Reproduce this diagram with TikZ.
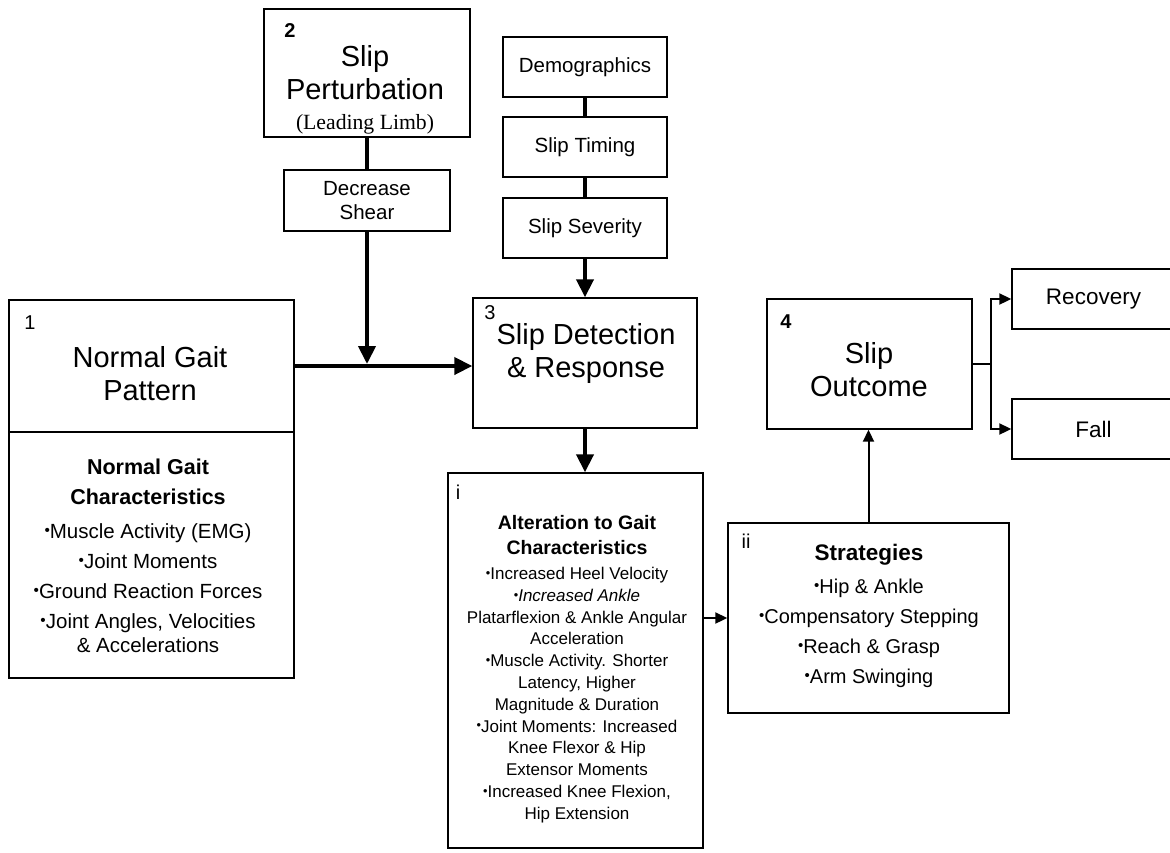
\documentclass[tikz,border=0pt]{standalone}
\usepackage{fontspec}
\usepackage{graphicx}
\setmainfont{Liberation Sans}
\newfontfamily\limbfont{Liberation Serif}
\usetikzlibrary{arrows.meta}
\newcommand{\bul}{\raisebox{0.25ex}{\scalebox{0.75}{•}}}

\begin{document}
\begin{tikzpicture}[x=1pt, y=-1pt,
  box/.style={draw, line width=1.4pt, inner sep=0pt},
  title/.style={align=center, font=\fontsize{29}{33}\selectfont},
  num/.style={inner sep=0pt, font=\fontsize{20}{24}\selectfont},
  txt/.style={align=center, font=\fontsize{20.5}{24}\selectfont},
  endtxt/.style={font=\fontsize{22.5}{26}\selectfont},
  head/.style={align=center, font=\bfseries\fontsize{21.5}{30}\selectfont},
  fine/.style={align=center, font=\fontsize{17}{21.8}\selectfont},
  bar/.style={line width=4pt},
  wire/.style={line width=2pt},
  bigtip/.style={-{Triangle[length=18pt,width=17pt]}},
  smalltip/.style={-{Triangle[length=12pt,width=11pt]}}]
\useasboundingbox (0,0) rectangle (1170,852);

% boxes
\node (pat)    at (151.5,366) [box, minimum width=285pt, minimum height=132pt] {};
\node (pchar)  at (151.5,555) [box, minimum width=285pt, minimum height=246pt] {};
\node (pert)   at (367,73)    [box, minimum width=206pt, minimum height=128pt] {};
\node (shear)  at (367,200.5) [box, txt, minimum width=166pt, minimum height=61pt] {Decrease\\Shear};
\node (demo)   at (585,67)    [box, txt, minimum width=164pt, minimum height=60pt] {Demographics};
\node (timing) at (585,147)   [box, txt, minimum width=164pt, minimum height=60pt] {Slip Timing};
\node (sever)  at (585,228)   [box, txt, minimum width=164pt, minimum height=60pt] {Slip Severity};
\node (det)    at (585,363)   [box, minimum width=224pt, minimum height=130pt] {};
\node (alt)    at (575.5,660.5) [box, minimum width=255pt, minimum height=375pt] {};
\node (strat)  at (868.5,618) [box, minimum width=281pt, minimum height=190pt] {};
\node (outc)   at (869.5,364) [box, minimum width=205pt, minimum height=130pt] {};
\node (rec)    at (1093.5,299) [box, endtxt, minimum width=163pt, minimum height=60pt] {Recovery};
\node (fall)   at (1093.5,429) [box, endtxt, minimum width=163pt, minimum height=60pt] {Fall};

% texts
\node (n1)    at (30,323)  [num] {1};
\node (patt)  at (150,374) [title] {Normal Gait\\Pattern};
\node (pchh)  at (148,482) [head] {Normal Gait\\Characteristics};
\node (pchl)  at (148,588) [txt] {\bul Muscle Activity (EMG)\\[6pt]
  \bul Joint Moments\\[6pt] \bul Ground Reaction Forces\\[6pt]
  \bul Joint Angles, Velocities\\ \& Accelerations};
\node (n2)    at (290,31)  [num, font=\bfseries\fontsize{20}{24}\selectfont] {2};
\node (pertt) at (365,90)  [title] {Slip\\Perturbation\\[-3pt]
  {\limbfont\fontsize{21.7}{24}\selectfont (Leading Limb)}};
\node (n3)    at (490,313) [num] {3};
\node (dett)  at (586,353) [title] {Slip Detection\\\& Response};
\node (n4)    at (786,322) [num, font=\bfseries\fontsize{20}{24}\selectfont] {4};
\node (outct) at (869,370) [title] {Slip\\Outcome};
\node (ni)    at (458,492) [num] {i};
\node (altt)  at (577,535.5) [head, font=\bfseries\fontsize{19.5}{25}\selectfont]
  {Alteration to Gait\\Characteristics};
\node (altl)  at (577,695) [fine] {\bul Increased Heel Velocity\\
  \bul\textit{Increased Ankle}\\ Platarflexion \& Ankle Angular\\ Acceleration\\
  \bul Muscle Activity. Shorter\\ Latency, Higher\\ Magnitude \& Duration\\
  \bul Joint Moments: Increased\\ Knee Flexor \& Hip\\ Extensor Moments\\
  \bul Increased Knee Flexion,\\ Hip Extension};
\node (nii)   at (746,541) [num] {ii};
\node (stratt) at (869,555) [head, font=\bfseries\fontsize{22.5}{30}\selectfont] {Strategies};
\node (stratl) at (869,633) [txt, font=\fontsize{20}{30}\selectfont] {\bul Hip \& Ankle\\
  \bul Compensatory Stepping\\ \bul Reach \& Grasp\\ \bul Arm Swinging};

% connectors
\coordinate (join) at (shear.south |- pat.east);
\coordinate (fork) at (991,364);
\draw[bar, bigtip] (pat.east) -- (det.west |- pat.east);
\draw[bar] (pert.south) -- (shear.north);
\draw[bar, bigtip, shorten >=2pt] (shear.south) -- (join);
\draw[bar] (demo.south) -- (timing.north);
\draw[bar] (timing.south) -- (sever.north);
\draw[bar, bigtip] (sever.south) -- (det.north);
\draw[bar, bigtip] (det.south) -- (det.south |- alt.north);
\draw[wire, smalltip] (alt.east |- strat.west) -- (strat.west);
\draw[wire, smalltip] (strat.north) -- (strat.north |- outc.south);
\draw[wire] (outc.east) -- (fork);
\draw[wire, smalltip] (fork) |- (rec.west);
\draw[wire, smalltip] (fork) |- (fall.west);
\end{tikzpicture}
\end{document}
